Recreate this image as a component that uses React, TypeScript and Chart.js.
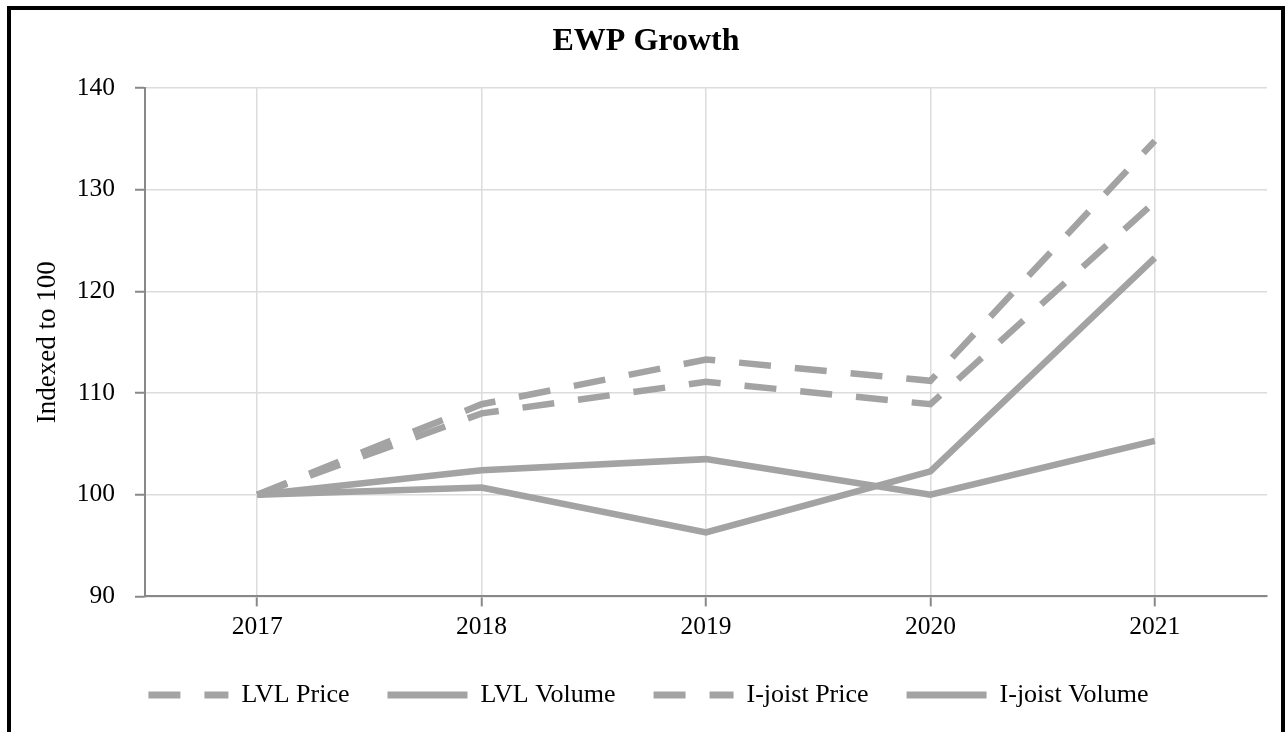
import React, { useEffect, useRef } from 'react';
import { Chart, registerables } from 'chart.js';

Chart.register(...registerables);

// ---- data ----
const categories = ['2017', '2018', '2019', '2020', '2021'];
const lvlPrice = [100, 108.0, 111.1, 108.9, 128.8];
const lvlVolume = [100, 102.4, 103.5, 100.0, 105.3];
const ijoistPrice = [100, 108.9, 113.3, 111.2, 134.8];
const ijoistVolume = [100, 100.7, 96.3, 102.3, 123.3];
const seriesNames = ['LVL Price', 'LVL Volume', 'I-joist Price', 'I-joist Volume'];
const yMin = 90;
const yMax = 140;
const yStep = 10;
const chartTitle = 'EWP Growth';
const yTitle = 'Indexed to 100';

const FONT = "'Liberation Serif', 'Times New Roman', Times, serif";
const LINE = '#a3a3a3';
const DASH = [32, 24];

const boxShift = {
  id: 'boxShift',
  afterLayout(chart: any) {
    const l = chart.legend;
    if (l) {
      l.left += 9.5;
      l.right += 9.5;
    }
    const t = chart.titleBlock;
    if (t) {
      t.left += 7;
      t.right += 7;
    }
  },
};

export default function App() {
  const ref = useRef<HTMLCanvasElement>(null);

  useEffect(() => {
    document.body.style.overflow = 'hidden';
    const mk = (label: string, data: number[], dashed: boolean) => ({
      label,
      data,
      borderColor: LINE,
      backgroundColor: LINE,
      borderWidth: 6.5,
      borderDash: dashed ? DASH : [],
      borderCapStyle: 'butt',
      borderJoinStyle: 'miter',
      pointRadius: 0,
      pointHoverRadius: 0,
      tension: 0,
      fill: false,
    });
    const chart = new Chart(ref.current as HTMLCanvasElement, {
      type: 'line',
      data: {
        labels: categories,
        datasets: [
          mk(seriesNames[0], lvlPrice, true),
          mk(seriesNames[1], lvlVolume, false),
          mk(seriesNames[2], ijoistPrice, true),
          mk(seriesNames[3], ijoistVolume, false),
        ] as any,
      },
      options: {
        animation: false,
        responsive: true,
        maintainAspectRatio: false,
        layout: { padding: { top: 0, right: 14, bottom: 14, left: 0 } },
        plugins: {
          title: {
            display: true,
            text: chartTitle,
            color: '#000',
            font: { family: FONT, size: 32, weight: 'bold', lineHeight: 1.2 },
            padding: { top: 13, bottom: 26.6 },
          },
          legend: {
            position: 'bottom',
            labels: {
              usePointStyle: true,
              pointStyle: 'line',
              pointStyleWidth: 80,
              color: '#000',
              font: { family: FONT, size: 26 },
              padding: 38,
              generateLabels: (c: any) =>
                c.data.datasets.map((ds: any, i: number) => ({
                  text: ds.label,
                  fillStyle: ds.borderColor,
                  strokeStyle: ds.borderColor,
                  lineWidth: 7,
                  lineDash: ds.borderDash && ds.borderDash.length ? DASH : [],
                  lineDashOffset: 0,
                  lineCap: 'butt',
                  pointStyle: 'line',
                  rotation: 180,
                  hidden: false,
                  datasetIndex: i,
                  fontColor: '#000',
                })),
            },
          },
          tooltip: { enabled: false },
        },
        scales: {
          x: {
            offset: true,
            afterFit: (s: any) => {
              s.height -= 5;
            },
            grid: {
              offset: false,
              color: '#dcdcdc',
              lineWidth: 1.5,
              tickColor: '#888',
              tickLength: 10,
              tickWidth: 2,
            },
            border: { color: '#888', width: 2 },
            ticks: { color: '#000', font: { family: FONT, size: 25.5 }, padding: 6 },
          },
          y: {
            min: yMin,
            max: yMax,
            afterFit: (s: any) => {
              s.width = 134;
            },
            grid: {
              color: '#dcdcdc',
              lineWidth: 1.5,
              tickColor: '#888',
              tickLength: 10,
              tickWidth: 2,
            },
            border: { color: '#888', width: 2 },
            ticks: { stepSize: yStep, color: '#000', font: { family: FONT, size: 25.5 }, padding: 20 },
            title: {
              display: true,
              text: yTitle,
              color: '#000',
              font: { family: FONT, size: 27 },
              padding: { top: 21, bottom: 13 },
            },
          },
        },
      } as any,
      plugins: [boxShift],
    });
    return () => chart.destroy();
  }, []);

  return (
    <div
      style={{
        position: 'absolute',
        left: 7,
        top: 6,
        width: 1278,
        height: 726,
        border: '4px solid #000',
        borderBottom: 'none',
        boxSizing: 'border-box',
        background: '#fff',
      }}
    >
      <div style={{ position: 'relative', width: 1270, height: 722 }}>
        <canvas ref={ref} />
      </div>
    </div>
  );
}
